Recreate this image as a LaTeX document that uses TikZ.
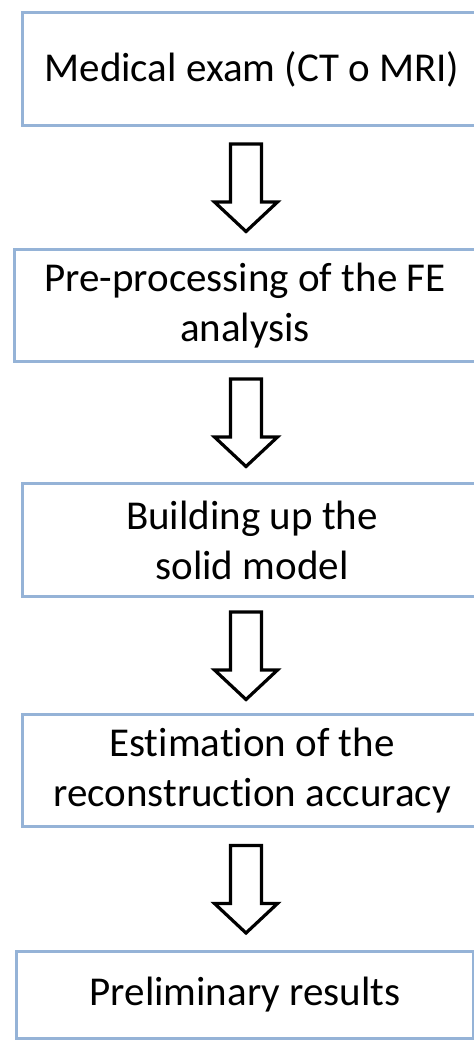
\documentclass[tikz,border=0pt]{standalone}
\usepackage{fontspec}
\setmainfont{Carlito}[Ligatures=NoCommon]
\usetikzlibrary{calc}
\usetikzlibrary{positioning}

\definecolor{boxblue}{RGB}{149,179,215}

\begin{document}
\begin{tikzpicture}[x=1pt,y=-1pt]
    \tikzset{
        every node/.style={font=\fontsize{41}{50}\selectfont},
        stepbox/.style={draw=boxblue, line width=3pt, align=center, inner sep=0pt, minimum width=459pt, minimum height=113pt},
        bigarrow/.style={draw=black, line width=3.2pt, line join=miter}
    }
    \useasboundingbox (0,0) rectangle (474,1042);
    \clip (0,0) rectangle (474,1042);

    % draw the steps
    \node[stepbox] (exam) at (252,69) {Medical exam (CT o MRI)};
    \node[stepbox, minimum width=461pt, minimum height=112pt] (prep) at (245,305.5) {Pre-processing of the FE\\analysis};
    \node[stepbox] (solid) at (252,540) {Building up the\\solid model};
    \node[stepbox, minimum height=112pt] (accuracy) at (252,770.5) {Estimation of the\\reconstruction accuracy};
    \node[stepbox, minimum width=457pt, minimum height=87pt] (results) at (245,995) {Preliminary results};

    % draw the hollow arrows between steps
    \coordinate (axis) at (246,0);
    \foreach \from/\to in {exam/prep, prep/solid, solid/accuracy, accuracy/results}{
        \path ($(\from.south)!0.5!(\to.north)$) coordinate (mid);
        \draw[bigarrow] ($(axis |- mid)+(-15.5,-43.5)$) -- ++(31,0) -- ++(0,58) -- ++(16,0)
            -- ($(axis |- mid)+(0,44)$) -- ($(axis |- mid)+(-31.5,14.5)$) -- ++(16,0) -- cycle;
    }
\end{tikzpicture}
\end{document}
